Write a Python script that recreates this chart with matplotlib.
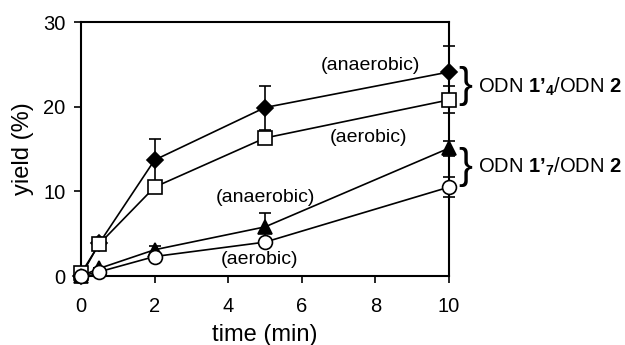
import numpy as np
import matplotlib
matplotlib.use("Agg")
import matplotlib.pyplot as plt

plt.rcParams['font.family'] = ['Liberation Sans', 'DejaVu Sans']
plt.rcParams['mathtext.fontset'] = 'custom'
plt.rcParams['mathtext.rm'] = 'Liberation Sans'
plt.rcParams['mathtext.bf'] = 'Liberation Sans:bold'

# time points (min)
time = [0, 0.5, 2, 5, 10]

# ODN 1'4 / ODN 2
y14_anaer = [0.0, 3.9, 13.7, 19.9, 24.1]
e14_anaer = [0.0, 0.0, 2.5, 2.6, 3.1]
y14_aer = [0.3, 3.8, 10.5, 16.3, 20.8]
e14_aer = [0.0, 0.0, 0.5, 0.6, 1.6]

# ODN 1'7 / ODN 2
y17_anaer = [0.0, 0.9, 3.1, 5.8, 15.1]
e17_anaer = [0.0, 0.0, 0.4, 1.6, 0.9]
y17_aer = [0.0, 0.5, 2.3, 4.0, 10.5]
e17_aer = [0.0, 0.0, 0.3, 0.3, 1.2]

fig = plt.figure(figsize=(6.25, 3.45), dpi=100)
ax = fig.add_axes([0.1296, 0.2, 0.5888, 0.7362])

series = [
    (y14_anaer, e14_anaer, 'D', 'black', 8.5),
    (y14_aer, e14_aer, 's', 'white', 10),
    (y17_anaer, e17_anaer, '^', 'black', 10),
    (y17_aer, e17_aer, 'o', 'white', 10),
]
for y, e, m, fc, ms in series:
    ax.errorbar(time, y, yerr=e, color='black', lw=1.2, elinewidth=1.2,
                capsize=4, capthick=1.2, marker=m, markersize=ms,
                markerfacecolor=fc, markeredgecolor='black', markeredgewidth=1.2,
                clip_on=False, zorder=3)

ax.set_xlim(0, 10)
ax.set_ylim(0, 30)
ax.set_xticks([0, 2, 4, 6, 8, 10])
ax.set_yticks([0, 10, 20, 30])
ax.tick_params(direction='out', length=5, width=1.2, labelsize=14.5, color='black')
ax.tick_params(axis='x', pad=10)
ax.tick_params(axis='y', pad=6)
for s in ax.spines.values():
    s.set_linewidth(1.5)
ax.set_xlabel('time (min)', fontsize=17, labelpad=6)
ax.set_ylabel('yield (%)', fontsize=17, labelpad=7)

ax.text(7.86, 24.9, '(anaerobic)', fontsize=14, ha='center', va='center')
ax.text(7.81, 16.3, '(aerobic)', fontsize=14, ha='center', va='center')
ax.text(5.0, 9.3, '(anaerobic)', fontsize=14, ha='center', va='center')
ax.text(4.84, 1.9, '(aerobic)', fontsize=14, ha='center', va='center')

# braces and group labels on the right
ax.text(1.025, 22.4, '}', transform=ax.get_yaxis_transform(), fontsize=30,
        ha='left', va='center', clip_on=False)
ax.text(1.08, 22.3, "ODN $\\mathbf{1’}_{\\mathbf{4}}$/ODN $\\mathbf{2}$",
        transform=ax.get_yaxis_transform(), fontsize=14.5, ha='left', va='center')
ax.text(1.025, 12.9, '}', transform=ax.get_yaxis_transform(), fontsize=30,
        ha='left', va='center', clip_on=False)
ax.text(1.08, 12.9, "ODN $\\mathbf{1’}_{\\mathbf{7}}$/ODN $\\mathbf{2}$",
        transform=ax.get_yaxis_transform(), fontsize=14.5, ha='left', va='center')

fig.savefig('out.png', dpi=100)
